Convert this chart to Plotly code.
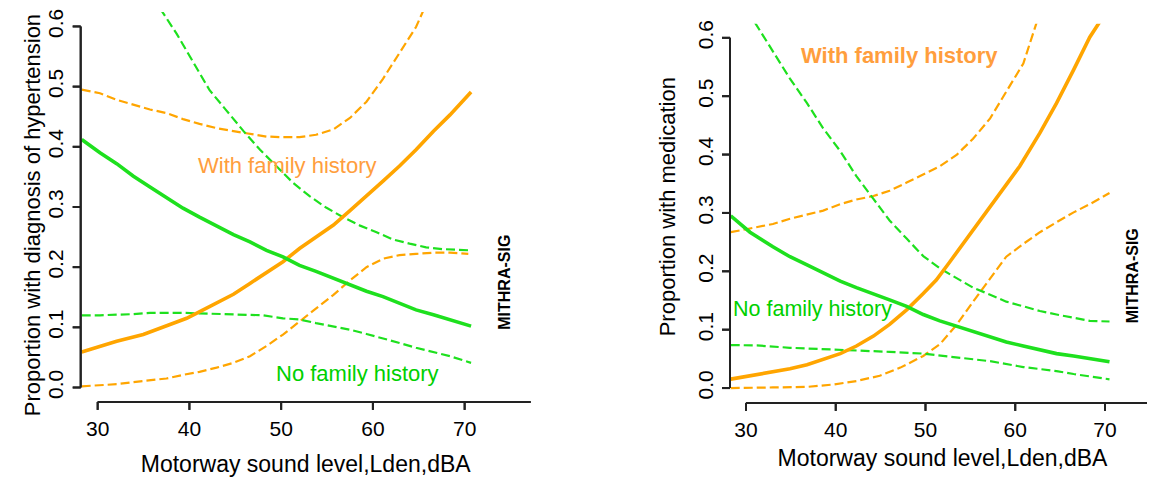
import plotly.graph_objects as go

# ---------------- data ----------------
# Left panel: proportion with diagnosis of hypertension
L_fam_x = [28.26, 30.25, 32.07, 34.97, 37.5, 39.7, 41.5, 42.96, 44.8, 46.6, 48.4, 50.2, 52.0, 53.8, 55.7, 57.5, 59.3, 61.1, 62.9, 64.7, 66.6, 68.4, 70.7]
L_fam_y = [0.059, 0.069, 0.077, 0.088, 0.102, 0.115, 0.129, 0.140, 0.155, 0.173, 0.191, 0.209, 0.231, 0.250, 0.270, 0.294, 0.318, 0.343, 0.368, 0.395, 0.426, 0.453, 0.491]
L_fam_hi_x = [28.26, 30.25, 32.07, 33.9, 35.7, 37.5, 39.3, 41.1, 42.96, 44.8, 46.6, 48.4, 50.2, 52.0, 53.8, 55.7, 57.5, 59.3, 61.1, 62.9, 64.7, 65.6]
L_fam_hi_y = [0.495, 0.489, 0.478, 0.470, 0.462, 0.456, 0.446, 0.438, 0.431, 0.426, 0.421, 0.417, 0.416, 0.416, 0.420, 0.429, 0.448, 0.475, 0.513, 0.557, 0.599, 0.630]
L_fam_lo_x = [28.26, 30.25, 32.07, 33.9, 35.7, 37.5, 39.3, 41.1, 42.96, 44.8, 46.6, 48.4, 50.2, 52.0, 53.8, 55.7, 57.5, 59.3, 61.1, 62.9, 64.7, 66.6, 68.4, 70.4]
L_fam_lo_y = [0.002, 0.004, 0.0055, 0.009, 0.012, 0.015, 0.021, 0.026, 0.033, 0.041, 0.052, 0.069, 0.088, 0.110, 0.132, 0.154, 0.178, 0.200, 0.214, 0.220, 0.222, 0.224, 0.224, 0.222]
L_nofam_x = [28.26, 30.25, 32.07, 33.9, 35.7, 37.5, 39.3, 41.1, 42.96, 44.8, 46.6, 48.4, 50.2, 52.0, 53.8, 55.7, 57.5, 59.3, 61.1, 62.9, 64.7, 66.6, 68.4, 70.7]
L_nofam_y = [0.412, 0.390, 0.372, 0.351, 0.333, 0.316, 0.298, 0.283, 0.268, 0.254, 0.242, 0.228, 0.217, 0.203, 0.193, 0.182, 0.170, 0.160, 0.151, 0.140, 0.129, 0.121, 0.113, 0.102]
L_nofam_hi_x = [36.8, 38.6, 40.4, 42.2, 44.0, 45.9, 47.7, 49.5, 51.3, 53.1, 54.9, 56.75, 58.6, 60.4, 62.2, 64.0, 65.8, 67.6, 70.5]
L_nofam_hi_y = [0.630, 0.588, 0.541, 0.494, 0.461, 0.426, 0.395, 0.368, 0.340, 0.318, 0.299, 0.283, 0.269, 0.258, 0.246, 0.239, 0.233, 0.230, 0.228]
L_nofam_lo_x = [28.26, 30.25, 33.9, 35.7, 39.3, 42.96, 46.6, 48.0, 50.2, 52.0, 53.8, 55.7, 57.5, 59.3, 61.1, 62.9, 64.7, 66.6, 68.4, 70.7]
L_nofam_lo_y = [0.120, 0.120, 0.122, 0.124, 0.124, 0.1225, 0.121, 0.120, 0.115, 0.113, 0.107, 0.102, 0.096, 0.089, 0.082, 0.074, 0.066, 0.059, 0.052, 0.041]

# Right panel: proportion with medication
R_fam_x = [28.3, 30.45, 33.0, 34.9, 36.8, 38.6, 40.5, 42.3, 44.2, 46.0, 47.9, 49.75, 51.2, 52.7, 54.6, 55.3, 57.2, 59.0, 60.5, 62.75, 64.6, 66.5, 68.3, 69.4, 70.5]
R_fam_y = [0.0153, 0.021, 0.027, 0.033, 0.040, 0.049, 0.059, 0.072, 0.089, 0.109, 0.134, 0.162, 0.185, 0.216, 0.256, 0.273, 0.312, 0.349, 0.380, 0.437, 0.488, 0.545, 0.601, 0.627, 0.660]
R_fam_hi_x = [28.3, 30.45, 33.0, 34.9, 36.8, 38.6, 40.5, 42.3, 44.2, 46.0, 47.9, 49.75, 51.6, 53.5, 55.3, 57.2, 59.0, 60.9, 62.4, 62.8]
R_fam_hi_y = [0.267, 0.273, 0.281, 0.290, 0.297, 0.304, 0.315, 0.323, 0.329, 0.338, 0.352, 0.366, 0.380, 0.400, 0.427, 0.462, 0.508, 0.556, 0.627, 0.650]
R_fam_lo_x = [28.3, 30.45, 33.0, 36.8, 39.7, 42.3, 44.9, 47.2, 49.75, 51.6, 53.5, 55.3, 57.2, 59.0, 60.9, 62.75, 64.6, 66.5, 68.3, 70.5]
R_fam_lo_y = [0.000, 0.000, 0.001, 0.002, 0.006, 0.012, 0.021, 0.035, 0.055, 0.075, 0.109, 0.148, 0.188, 0.225, 0.247, 0.267, 0.284, 0.301, 0.315, 0.334]
R_nofam_x = [28.3, 30.45, 33.0, 34.9, 36.8, 38.6, 40.5, 42.3, 44.2, 46.0, 47.9, 49.75, 51.6, 53.5, 55.3, 57.2, 59.0, 60.9, 62.75, 64.6, 66.5, 68.3, 70.5]
R_nofam_y = [0.295, 0.267, 0.242, 0.225, 0.211, 0.198, 0.183, 0.172, 0.162, 0.151, 0.140, 0.126, 0.115, 0.106, 0.097, 0.089, 0.079, 0.072, 0.066, 0.059, 0.055, 0.050, 0.045]
R_nofam_hi_x = [31.0, 33.0, 34.9, 36.8, 38.6, 40.5, 42.3, 44.2, 46.0, 47.9, 49.75, 51.6, 53.5, 55.3, 57.2, 59.0, 60.9, 62.75, 64.6, 66.5, 68.3, 70.5]
R_nofam_hi_y = [0.626, 0.576, 0.530, 0.488, 0.445, 0.406, 0.363, 0.324, 0.287, 0.256, 0.226, 0.205, 0.188, 0.172, 0.160, 0.148, 0.140, 0.132, 0.126, 0.120, 0.115, 0.114]
R_nofam_lo_x = [28.3, 31.2, 34.9, 38.6, 42.3, 46.0, 49.75, 53.5, 57.2, 60.9, 64.6, 66.5, 70.5]
R_nofam_lo_y = [0.0736, 0.073, 0.069, 0.067, 0.0645, 0.062, 0.059, 0.053, 0.046, 0.036, 0.029, 0.024, 0.015]

x_ticks = [30, 40, 50, 60, 70]
y_ticks = [0.0, 0.1, 0.2, 0.3, 0.4, 0.5, 0.6]
y_tick_text = ["0.0", "0.1", "0.2", "0.3", "0.4", "0.5", "0.6"]

x_title = "Motorway sound level,Lden,dBA"
y_title_left = "Proportion with diagnosis of hypertension"
y_title_right = "Proportion with medication"
label_fam = "With family history"
label_nofam = "No family history"
credit = "MITHRA-SIG"

# ---------------- styling ----------------
ORANGE = "#FFA500"
ORANGE_TXT = "#FF9E3D"
GREEN = "#1EE01E"
GREEN_TXT = "#00D000"
AXIS_COLOR = "#222222"
FONT = "Liberation Sans, Arial, sans-serif"
DASH = "9px,4px"
AXIS_W = 2
TICK_LEN = 8

# the page body has an 8px margin, so the figure is sized to fit the window
OFF = 8
W, H = 1155 - OFF, 477 - OFF

def px(sx):
    return (sx - OFF) / W

def py(sy):
    return 1 - (sy - OFF) / H

fig = go.Figure()

def add(x, y, color, dashed, xa, ya):
    fig.add_trace(go.Scatter(
        x=x, y=y, mode="lines", xaxis=xa, yaxis=ya, showlegend=False,
        line=dict(color=color, width=2.2 if dashed else 3.6, dash=DASH if dashed else "solid"),
        hoverinfo="skip"))

# left
add(L_fam_hi_x, L_fam_hi_y, ORANGE, True, "x", "y")
add(L_fam_lo_x, L_fam_lo_y, ORANGE, True, "x", "y")
add(L_nofam_hi_x, L_nofam_hi_y, GREEN, True, "x", "y")
add(L_nofam_lo_x, L_nofam_lo_y, GREEN, True, "x", "y")
add(L_fam_x, L_fam_y, ORANGE, False, "x", "y")
add(L_nofam_x, L_nofam_y, GREEN, False, "x", "y")
# right
add(R_fam_hi_x, R_fam_hi_y, ORANGE, True, "x2", "y2")
add(R_fam_lo_x, R_fam_lo_y, ORANGE, True, "x2", "y2")
add(R_nofam_hi_x, R_nofam_hi_y, GREEN, True, "x2", "y2")
add(R_nofam_lo_x, R_nofam_lo_y, GREEN, True, "x2", "y2")
add(R_fam_x, R_fam_y, ORANGE, False, "x2", "y2")
add(R_nofam_x, R_nofam_y, GREEN, False, "x2", "y2")

L_xrange = [28.15, 77.2]
R_xrange = [28.22, 75.57]
L_yrange = [-0.024, 0.624]
R_yrange = [-0.0255, 0.624]

L_xdom = [px(80.7), px(530.7)]
L_ydom = [py(401.3), py(8)]
R_xdom = [px(730), 1.0]
R_ydom = [py(402.3), py(19.9)]

def to_paper(v, rng, dom):
    return dom[0] + (v - rng[0]) / (rng[1] - rng[0]) * (dom[1] - dom[0])

# R-style axis lines and tick marks, mapped through each panel's scale:
# x line from the first tick to the plot edge, y line from the first to the last tick
axis_segments = []
for xr, xd, yr, yd in ((L_xrange, L_xdom, L_yrange, L_ydom), (R_xrange, R_xdom, R_yrange, R_ydom)):
    xb, yb = yd[0], xd[0]
    axis_segments.append((to_paper(x_ticks[0], xr, xd), xb, min(xd[1], 0.999), xb))
    for t in x_ticks:
        p = to_paper(t, xr, xd)
        axis_segments.append((p, xb, p, xb - TICK_LEN / H))
    axis_segments.append((yb, to_paper(y_ticks[0], yr, yd), yb, to_paper(y_ticks[-1], yr, yd)))
    for t in y_ticks:
        p = to_paper(t, yr, yd)
        axis_segments.append((yb, p, yb - TICK_LEN / W, p))

seg_x, seg_y = [], []
for x0, y0, x1, y1 in axis_segments:
    seg_x += [x0, x1, None]
    seg_y += [y0, y1, None]
    fig.add_shape(type="line", xref="paper", yref="paper", x0=x0, y0=y0, x1=x1, y1=y1,
                  layer="above", line=dict(color=AXIS_COLOR, width=AXIS_W))
fig.add_trace(go.Scatter(x=seg_x, y=seg_y, mode="lines", xaxis="x5", yaxis="y5", showlegend=False,
                         line=dict(color=AXIS_COLOR, width=AXIS_W), hoverinfo="skip"))

tickfont = dict(family=FONT, size=21, color="black")

def xaxis_cfg(domain, rng, anchor, standoff):
    return dict(domain=domain, range=rng, anchor=anchor, tickvals=x_ticks,
                ticks="outside", ticklen=TICK_LEN, tickcolor="rgba(0,0,0,0)",
                showline=False, showgrid=False, zeroline=False, tickfont=tickfont,
                title=dict(text=x_title, font=dict(family=FONT, size=23, color="black"), standoff=standoff))

def yaxis_cfg(domain, rng, anchor):
    return dict(domain=domain, range=rng, anchor=anchor, tickvals=y_ticks, ticktext=y_tick_text,
                tickangle=-90, ticks="outside", ticklen=TICK_LEN, tickcolor="rgba(0,0,0,0)",
                showline=False, showgrid=False, zeroline=False, tickfont=tickfont)

fig.update_layout(
    width=W, height=H,
    margin=dict(l=0, r=0, t=0, b=0),
    paper_bgcolor="white", plot_bgcolor="rgba(0,0,0,0)",
    font=dict(family=FONT),
    xaxis=xaxis_cfg(L_xdom, L_xrange, "y", 16),
    yaxis=yaxis_cfg(L_ydom, L_yrange, "x"),
    xaxis2=xaxis_cfg(R_xdom, R_xrange, "y2", 9),
    yaxis2=yaxis_cfg(R_ydom, R_yrange, "x2"),
    xaxis5=dict(domain=[0, 1], range=[0, 1], anchor="y5", visible=False, fixedrange=True),
    yaxis5=dict(domain=[0, 1], range=[0, 1], anchor="x5", visible=False, fixedrange=True),
)

# y-axis titles
fig.add_annotation(x=px(18), y=py(213.5), xref="paper", yref="paper", text=y_title_left, showarrow=False,
                   textangle=-90, font=dict(family=FONT, size=22, color="black"))
fig.add_annotation(x=px(667), y=py(205), xref="paper", yref="paper", text=y_title_right, showarrow=False,
                   textangle=-90, font=dict(family=FONT, size=22, color="black"))

# curve labels
fig.add_annotation(x=50.6, y=0.3685, xref="x", yref="y", text=label_fam, showarrow=False,
                   font=dict(family=FONT, size=22, color=ORANGE_TXT))
fig.add_annotation(x=58.35, y=0.024, xref="x", yref="y", text=label_nofam, showarrow=False,
                   font=dict(family=FONT, size=22, color=GREEN_TXT))
fig.add_annotation(x=47.05, y=0.569, xref="x2", yref="y2", text="<b>" + label_fam + "</b>", showarrow=False,
                   font=dict(family=FONT, size=22, color=ORANGE_TXT))
fig.add_annotation(x=37.46, y=0.1347, xref="x2", yref="y2", text=label_nofam, showarrow=False,
                   font=dict(family=FONT, size=21.5, color=GREEN_TXT))

# credit
fig.add_annotation(x=px(505), y=py(331), xref="paper", yref="paper", text="<b>" + credit + "</b>",
                   showarrow=False, textangle=-90, font=dict(family=FONT, size=16, color="black"))
fig.add_annotation(x=px(1143), y=py(324), xref="paper", yref="paper", text="<b>" + credit + "</b>",
                   showarrow=False, textangle=-90, font=dict(family=FONT, size=16, color="black"))

fig.write_html("out.html")
